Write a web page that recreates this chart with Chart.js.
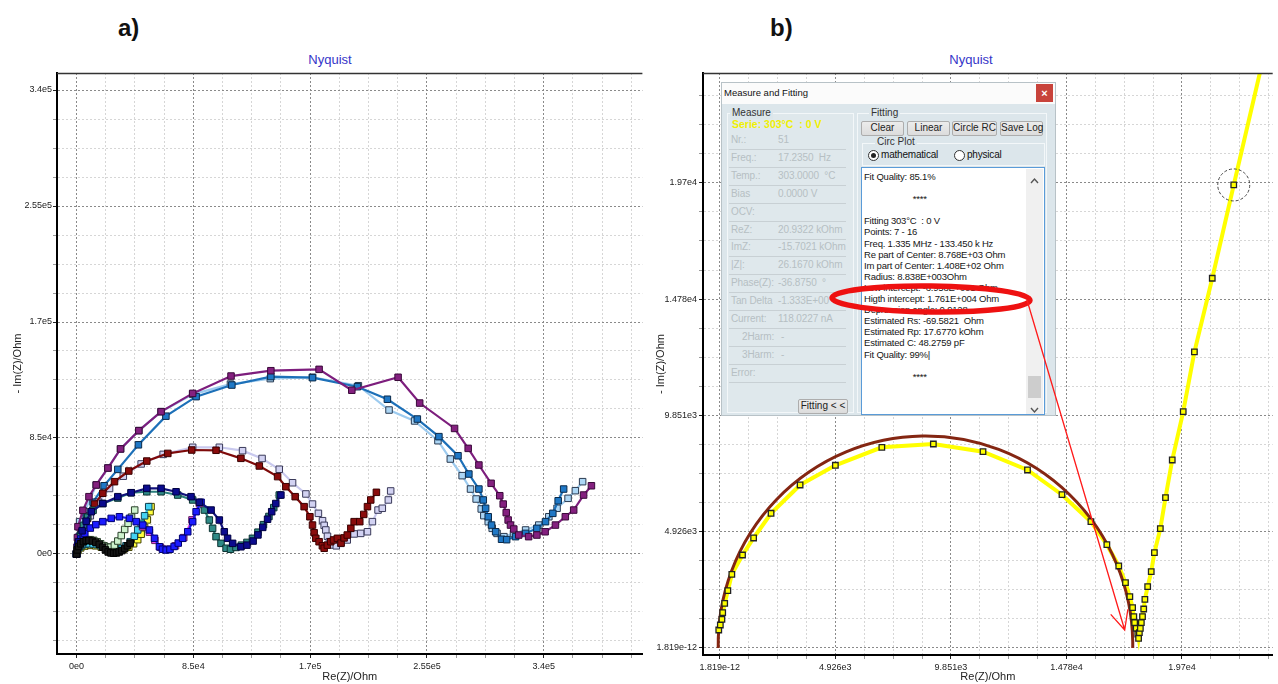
<!DOCTYPE html>
<html><head><meta charset="utf-8">
<script src="https://cdn.jsdelivr.net/npm/chart.js@4.4.1/dist/chart.umd.min.js"></script>
<style>
html,body{margin:0;padding:0;background:#fff;}
body{width:1278px;height:684px;position:relative;overflow:hidden;font-family:"Liberation Sans",Arial,sans-serif;}
.abs{position:absolute;}
canvas{display:block;}
#ca{position:absolute;left:0;top:0;z-index:1;}
#cb{position:absolute;left:648px;top:0;z-index:1;}
#ov{position:absolute;left:0;top:0;z-index:3;pointer-events:none;}
.plab{font-weight:bold;font-size:24px;line-height:24px;color:#111;}
.ctitle{font-size:13px;line-height:15px;color:#3434c8;width:100px;text-align:center;}
#dlg{position:absolute;left:0;top:0;width:1278px;height:684px;z-index:2;pointer-events:none;}
#dlg div{position:absolute;box-sizing:border-box;white-space:nowrap;}
.mt{font-size:10px;line-height:12px;color:#b6bfc3;letter-spacing:-0.1px;}
.gl{font-size:10px;line-height:12px;color:#333;background:#dce6eb;padding:0 2px;}
.btn{background:linear-gradient(#ececec,#dcdcdc);border:1px solid #adadad;border-radius:2px;font-size:10px;line-height:12px;color:#222;text-align:center;}
.rad{width:11px;height:11px;border:1px solid #333;border-radius:50%;background:#fff;}
</style></head>
<body>
<canvas id="ca" width="648" height="684" style="width:648px;height:684px"></canvas>
<canvas id="cb" width="630" height="684" style="width:630px;height:684px"></canvas>
<div class="abs plab" style="left:118px;top:16px">a)</div>
<div class="abs plab" style="left:770px;top:16px">b)</div>
<div class="abs ctitle" style="left:280px;top:52px">Nyquist</div>
<div class="abs ctitle" style="left:921px;top:52px">Nyquist</div>
<div id="dlg"></div>
<canvas id="ov" width="1278" height="684" style="width:1278px;height:684px"></canvas>
<script>
// ---------------- Panel a data (Re(Z), -Im(Z) in Ohm) ----------------
const aTickValues = [0, 85000, 170000, 255000, 340000];
const aTickLabels = ['0e0', '8.5e4', '1.7e5', '2.55e5', '3.4e5'];

const purpleRe = [0, 300, 600, 1000, 4600, 9000, 14300, 22800, 32000, 45300, 61500, 84500, 112400, 141400, 176500, 200300, 234000, 249700, 275100, 285000, 292800, 301700, 308000, 310500, 312700, 314100, 315800, 318200, 321800, 329000, 335000, 341000, 348500, 355700, 361800, 369000, 374700];
const purpleIm = [500, 5000, 12000, 20000, 32000, 42000, 50600, 63000, 77000, 90400, 104300, 117700, 130400, 134300, 135300, 120000, 129500, 110600, 92000, 77400, 65200, 51800, 42700, 36600, 30300, 24900, 21200, 18300, 13900, 12700, 13900, 16300, 21200, 27300, 32200, 43200, 50000];

const steelBlueRe = [0, 800, 2000, 4000, 7000, 12000, 20000, 30000, 45000, 65000, 87000, 113000, 141400, 171700, 204400, 226200, 248000, 263700, 277600, 285500, 292800, 296000, 297700, 299600, 302000, 305000, 309300, 313000, 319500, 326800, 335000, 341300, 346600, 350500, 354500];
const steelBlueIm = [0, 6000, 13000, 20000, 28000, 38000, 50000, 62000, 80000, 101000, 115300, 123800, 130000, 129200, 122600, 113400, 98900, 86000, 72000, 58600, 47600, 39600, 33500, 27300, 21200, 16300, 10800, 10500, 12700, 15100, 18800, 23700, 29800, 39000, 47600];

const lightBlueRe = [0, 300, 1000, 2200, 5800, 14300, 22800, 32000, 45300, 61500, 84500, 112000, 141000, 171700, 205100, 227400, 246000, 263000, 272000, 280600, 286700, 290800, 294500, 296400, 299600, 302500, 306000, 311000, 318000, 326800, 336400, 343700, 349700, 357700, 363000, 368300];
const lightBlueIm = [0, 2000, 9000, 23700, 31000, 50600, 63000, 77000, 90400, 104300, 117000, 124500, 128500, 129500, 123300, 105500, 97500, 83000, 69600, 57400, 47600, 40300, 33000, 28100, 23700, 18800, 15100, 12700, 15000, 17600, 21200, 27300, 33500, 40800, 46400, 53000];

const darkRedRe = [0, 1500, 4000, 8000, 13100, 19100, 27600, 38000, 51100, 66400, 83800, 101500, 119600, 133000, 146300, 152300, 159100, 165600, 169800, 171700, 172900, 174100, 176500, 178900, 180200, 182500, 185000, 187000, 189800, 192500, 194700, 197000, 199600, 202000, 206100, 209000, 211700, 214100, 218200];
const darkRedIm = [0, 8000, 16000, 26000, 36600, 44500, 53000, 60800, 68100, 73700, 76200, 76000, 70100, 64500, 56700, 49300, 42000, 34700, 27300, 21200, 15600, 11500, 9000, 6000, 4200, 6500, 9000, 10300, 11500, 8000, 11800, 13900, 18800, 23700, 23700, 29000, 34700, 39600, 45200];

const lavenderRe = [0, 2000, 5000, 10000, 16000, 24000, 34000, 47000, 63000, 84500, 103900, 120800, 135000, 147500, 157200, 166900, 171700, 176000, 179000, 180200, 181400, 182600, 184000, 186200, 189000, 192300, 197000, 202000, 206800, 211700, 215300, 219400, 222500, 226900, 228600];
const lavenderIm = [0, 9000, 18000, 28000, 38000, 48000, 57000, 66000, 73000, 78200, 78200, 75700, 70000, 62100, 52200, 44000, 36600, 29800, 24400, 21000, 17600, 13000, 9000, 6600, 6000, 7800, 10300, 14700, 15100, 16300, 23700, 32200, 33500, 39600, 46200];

const navyRe = [0, 1500, 4000, 7000, 10700, 19100, 30000, 39700, 51100, 61500, 72400, 83300, 89400, 97900, 103900, 107500, 109900, 113600, 119600, 124000, 128500, 132000, 135500, 139000, 142000, 145000, 148700];
const navyIm = [0, 9000, 17000, 24000, 31000, 37000, 42000, 44900, 48100, 48100, 45600, 42000, 37900, 32200, 24900, 16300, 11500, 7800, 5300, 6500, 9500, 14000, 19500, 25500, 31000, 37000, 43200];

const tealRe = [0, 1200, 3000, 5000, 8000, 12000, 19100, 30000, 39700, 51100, 61500, 73600, 84500, 93000, 96600, 99000, 101500, 105100, 108800, 112000, 116000, 120000, 124000, 128000, 132000, 136000, 140000, 143500, 147500];
const tealIm = [0, 7000, 14000, 21000, 27000, 32000, 37000, 41000, 44900, 45600, 45600, 43200, 39600, 32200, 24900, 18800, 12700, 7800, 4200, 3500, 4800, 6500, 8500, 11500, 16000, 21500, 27500, 34000, 43200];

const blueRe = [0, 1000, 3000, 6000, 10000, 14000, 19100, 25200, 31200, 38500, 43400, 48200, 53000, 56700, 60300, 62500, 65200, 68000, 71000, 74000, 77200, 80900, 84500, 87000, 90600];
const blueIm = [0, 6000, 11000, 15000, 19000, 21500, 23700, 26100, 27300, 26100, 23700, 21200, 17600, 11500, 5300, 3500, 2900, 3500, 5500, 8000, 11500, 16300, 23700, 31000, 37900];

const magentaRe = [48000, 53000, 57000, 61000, 66000, 72000, 78000, 84000, 89400];
const magentaIm = [20000, 16000, 10000, 5000, 3500, 6000, 12000, 25000, 37000];

const blackRe = [0, 500, 1500, 3000, 5000, 7000, 9000, 11500, 14000, 16500, 19000, 21000, 23000, 25000, 27000, 29000, 31000, 33000, 35000, 37000, 39000];
const blackIm = [0, 3000, 5500, 7500, 9000, 9800, 10000, 9500, 8500, 7000, 5000, 3000, 1500, 800, 600, 800, 1500, 2500, 4000, 6000, 8000];

const paleGreenRe = [0, 500, 1500, 3000, 5000, 7500, 10000, 12500, 15000, 17500, 20000, 22500, 25000, 27500, 30000, 32500, 35000, 37500, 40000, 42300];
const paleGreenIm = [0, 4000, 7000, 9000, 10000, 10500, 10500, 10000, 9000, 7500, 6000, 5000, 5000, 6500, 9500, 13500, 18000, 22500, 27000, 32200];

const cyanRe = [0, 700, 2000, 4000, 6500, 9000, 12000, 15000, 18000, 21000, 24000, 27000, 30000, 33000, 36000, 39000, 42000, 44500, 47000, 49500, 52500];
const cyanIm = [0, 3000, 5000, 6500, 7200, 7500, 7300, 6800, 6000, 5000, 4000, 3500, 3500, 4200, 6000, 9000, 13000, 17600, 22500, 28000, 34700];

const yellowARe = [0, 1000, 3000, 6000, 10000, 14000, 18000, 22000, 26000, 30000, 34000, 38000, 41500, 44500, 47000, 49500, 51500, 53500, 54200];
const yellowAIm = [0, 2500, 4500, 5800, 6300, 6000, 5000, 3800, 3000, 2800, 3500, 5000, 7500, 10500, 14500, 19500, 25000, 31000, 34700];

// ---------------- Panel b data ----------------
const bTickValues = [0, 4925.6, 9851.2, 14776.8, 19702.4];
const bTickLabels = ['1.819e-12', '4.926e3', '9.851e3', '1.478e4', '1.97e4'];

const measRe = [-46, 21, 89, 122, 207, 342, 511, 967, 1440, 2184, 3422, 4926, 6907, 9104, 11221, 13118, 14588, 15822, 16502, 17009, 17296, 17482, 17600, 17651, 17685, 17752, 17820, 17854, 17888, 17930, 17972, 18022, 18073, 18123, 18242, 18394, 18529, 18782, 19002, 19290, 19758, 20235, 20996, 21912, 23200];
const measIm = [762, 974, 1215, 1496, 1893, 2427, 3122, 3939, 4660, 5706, 6905, 7739, 8500, 8641, 8315, 7540, 6494, 5350, 4376, 3474, 2766, 2173, 1707, 1326, 1072, 834, 593, 411, 648, 834, 1072, 1326, 1652, 2063, 2597, 3232, 4037, 5054, 6367, 7964, 10010, 12539, 15660, 19613, 25100];
const selectedIndex = 43;

// circle fit result (from the fitting log)
const fitCenterRe = 8768;
const fitCenterIm = 140.8;
const fitRadius = 8838;
const arrowTipRe = 17262;
const arrowTipIm = 762;

// ---------------- dialog text ----------------
const measureLabels = ['Nr.:', 'Freq.:', 'Temp.:', 'Bias', 'OCV:', 'ReZ:', 'ImZ:', '|Z|:', 'Phase(Z):', 'Tan Delta', 'Current:', '2Harm:', '3Harm:', 'Error:'];
const measureValues = ['51', '17.2350  Hz', '303.0000  °C', '0.0000 V', '', '20.9322 kOhm', '-15.7021 kOhm', '26.1670 kOhm', '-36.8750  °', '-1.333E+00', '118.0227 nA', '-', '-', ''];
const logLines = ['Fit Quality: 85.1%', '', '                    ****', '', 'Fitting 303°C  : 0 V', 'Points: 7 - 16', 'Freq. 1.335 MHz - 133.450 k Hz', 'Re part of Center: 8.768E+03 Ohm', 'Im part of Center: 1.408E+02 Ohm', 'Radius: 8.838E+003Ohm', 'Low intercept: -6.958E+001 Ohm', 'Higth intercept: 1.761E+004 Ohm', 'Depression angle: 0.9128', 'Estimated Rs: -69.5821  Ohm', 'Estimated Rp: 17.6770 kOhm', 'Estimated C: 48.2759 pF', 'Fit Quality: 99%|', '', '                    ****'];

const FONT = "'Liberation Sans', Arial, sans-serif";
Chart.defaults.font.family = FONT;

function pts(re, im) { return re.map((v, i) => ({ x: v, y: im[i] })); }

function axis(dir, min, max, step, majors, labels, title, titlePad, size, tickPad) {
  const isMajor = v => majors.some(m => Math.abs(m - v) < step * 0.01);
  return {
    type: 'linear', min, max, position: dir === 'x' ? 'bottom' : 'left',
    afterBuildTicks(s) {
      const t = [];
      for (let k = Math.ceil(min / step); k * step <= max; k++) t.push({ value: k * step });
      s.ticks = t;
    },
    afterFit(s) { if (dir === 'x') s.height = size; else s.width = size; },
    ticks: {
      autoSkip: false, maxRotation: 0, minRotation: 0,
      font: { size: 9, family: FONT }, color: '#222', padding: tickPad,
      callback(v) { const k = majors.findIndex(m => Math.abs(m - v) < step * 0.01); return k >= 0 ? labels[k] : ''; }
    },
    grid: {
      color(c) { return c.tick && !isMajor(c.tick.value) ? '#d6d6d6' : '#8a8a8a'; },
      tickColor(c) { return c.tick && !isMajor(c.tick.value) ? '#9a9a9a' : '#222'; },
      lineWidth: 1, tickLength: 4, drawTicks: true
    },
    border: { display: true, color: '#000', width: 2, dash: [2, 2] },
    title: { display: true, text: title, font: { size: 11, family: FONT }, color: '#222', padding: titlePad }
  };
}

const frameTop = {
  id: 'frameTop',
  afterDraw(ch) {
    const { ctx, chartArea: a } = ch;
    ctx.save(); ctx.strokeStyle = '#333'; ctx.lineWidth = 1.3;
    ctx.beginPath(); ctx.moveTo(a.left, a.top + 0.5); ctx.lineTo(a.right, a.top + 0.5); ctx.stroke(); ctx.restore();
  }
};

// ---------------- Panel a chart ----------------
const aSeries = [
  { re: blackRe, im: blackIm, line: '#111111', fill: '#151515', edge: '#000000' },
  { re: navyRe, im: navyIm, line: '#12127c', fill: '#0b0b8e', edge: '#000040' },
  { re: blueRe, im: blueIm, line: '#1616ee', fill: '#1c1cff', edge: '#000070' },
  { re: magentaRe, im: magentaIm, line: '#e040e0', fill: '#f050f0', edge: '#602060' },
  { re: tealRe, im: tealIm, line: '#2b7f7d', fill: '#2f8a86', edge: '#0c3332' },
  { re: paleGreenRe, im: paleGreenIm, line: '#bde6bd', fill: '#cdf2cd', edge: '#2a402a' },
  { re: cyanRe, im: cyanIm, line: '#2ec4e6', fill: '#44d2f2', edge: '#104050' },
  { re: yellowARe, im: yellowAIm, line: '#e8e830', fill: '#ffff40', edge: '#404000' },
  { re: darkRedRe, im: darkRedIm, line: '#7e0a0a', fill: '#8a0c0c', edge: '#3a0000' },
  { re: lavenderRe, im: lavenderIm, line: '#c9c9ee', fill: '#d2d2f2', edge: '#3a3a5a' },
  { re: purpleRe, im: purpleIm, line: '#7d1e7d', fill: '#84207f', edge: '#3a0a3a' },
  { re: steelBlueRe, im: steelBlueIm, line: '#1d70b8', fill: '#1f78c6', edge: '#0a2a4a' },
  { re: lightBlueRe, im: lightBlueIm, line: '#9dcbef', fill: '#acd6f5', edge: '#2a3a50' }
];

new Chart(document.getElementById('ca'), {
  type: 'scatter',
  data: {
    datasets: aSeries.map(s => ({
      data: pts(s.re, s.im), showLine: true, borderColor: s.line, borderWidth: 2.2,
      pointStyle: 'rect', pointRadius: 4.6, pointBackgroundColor: s.fill, pointBorderColor: s.edge,
      pointBorderWidth: 1, tension: 0
    }))
  },
  options: {
    responsive: false, animation: false, devicePixelRatio: 1,
    layout: { padding: { top: 73, right: 2, bottom: 0, left: 0 } },
    plugins: { legend: { display: false }, tooltip: { enabled: false } },
    scales: {
      x: axis('x', -14250, 411800, 21250, aTickValues, aTickLabels, 'Re(Z)/Ohm', { top: 0, bottom: 0 }, 30, 3),
      y: axis('y', -73276, 352457, 21250, aTickValues, aTickLabels, '- Im(Z)/Ohm', { top: 11, bottom: 0 }, 57, 1)
    }
  },
  plugins: [frameTop]
});

// ---------------- Panel b chart ----------------
const bPlugin = {
  id: 'bDecor',
  afterDatasetDraw(ch, args) {
    if (args.index !== 1) return;
    const { ctx, chartArea: a, scales: { x, y } } = ch;
    const cx = x.getPixelForValue(fitCenterRe), cy = y.getPixelForValue(fitCenterIm);
    const rx = Math.abs(x.getPixelForValue(fitCenterRe + fitRadius) - cx);
    const ry = Math.abs(y.getPixelForValue(fitCenterIm + fitRadius) - cy);
    const d = Math.asin(fitCenterIm / fitRadius);
    ctx.save();
    ctx.beginPath(); ctx.rect(a.left, a.top, a.right - a.left, a.bottom - a.top); ctx.clip();
    ctx.beginPath(); ctx.ellipse(cx, cy, rx, ry, 0, Math.PI - d, 2 * Math.PI + d, false);
    ctx.strokeStyle = '#842612'; ctx.lineWidth = 3; ctx.stroke();
    ctx.restore();
  },
  afterDatasetsDraw(ch) {
    const { ctx, scales: { x, y } } = ch;
    const px = x.getPixelForValue(measRe[selectedIndex]), py = y.getPixelForValue(measIm[selectedIndex]);
    ctx.save(); ctx.setLineDash([3, 2]); ctx.strokeStyle = '#444'; ctx.lineWidth = 1;
    ctx.beginPath(); ctx.arc(px, py, 16, 0, 2 * Math.PI); ctx.stroke(); ctx.restore();
  },
  afterDraw(ch) {
    const { scales: { x, y } } = ch;
    const o = document.getElementById('ov').getContext('2d');
    const left = ch.canvas.offsetLeft, top = ch.canvas.offsetTop;
    o.clearRect(0, 0, 1278, 684);
    // annotation ellipse around the high-intercept line
    o.save(); o.strokeStyle = '#ee1111'; o.lineWidth = 5.5;
    o.beginPath(); o.ellipse(931, 299, 99, 13, 0.012, 0, 2 * Math.PI); o.stroke(); o.restore();
    // arrow to the intercept
    const sx = 1027, sy = 300;
    const tx = left + x.getPixelForValue(arrowTipRe), ty = top + y.getPixelForValue(arrowTipIm);
    const ang = Math.atan2(ty - sy, tx - sx);
    o.save(); o.strokeStyle = '#ff1a1a'; o.lineWidth = 1.3;
    o.beginPath(); o.moveTo(sx, sy); o.lineTo(tx, ty);
    o.moveTo(tx + 21 * Math.cos(ang + Math.PI - 0.44), ty + 21 * Math.sin(ang + Math.PI - 0.44));
    o.lineTo(tx, ty);
    o.lineTo(tx + 21 * Math.cos(ang + Math.PI + 0.44), ty + 21 * Math.sin(ang + Math.PI + 0.44));
    o.stroke(); o.restore();
  }
};

new Chart(document.getElementById('cb'), {
  type: 'scatter',
  data: {
    datasets: [
      { data: pts(measRe, measIm), showLine: false, pointStyle: 'rect', pointRadius: 3.9,
        pointBackgroundColor: '#ffff00', pointBorderColor: '#222', pointBorderWidth: 1.3, clip: 0 },
      { data: pts(measRe, measIm), showLine: true, borderColor: '#ffff00', borderWidth: 4, pointRadius: 0, tension: 0, clip: 0 }
    ]
  },
  options: {
    responsive: false, animation: false, devicePixelRatio: 1,
    layout: { padding: { top: 73, right: 0, bottom: 0, left: 0 } },
    plugins: { legend: { display: false }, tooltip: { enabled: false } },
    scales: {
      x: axis('x', -718, 23573, 1231.4, bTickValues, bTickLabels, 'Re(Z)/Ohm', { top: 0, bottom: 0 }, 29, 3),
      y: axis('y', -296.5, 24354, 1231.4, bTickValues, bTickLabels, '- Im(Z)/Ohm', { top: 6, bottom: 0 }, 55, 2)
    }
  },
  plugins: [frameTop, bPlugin]
});

// ---------------- Measure and Fitting dialog (HTML) ----------------
const dlg = document.getElementById('dlg');
function el(x, y, w, h, css, html, cls) {
  const d = document.createElement('div');
  d.style.left = x + 'px'; d.style.top = y + 'px';
  if (w != null) d.style.width = w + 'px';
  if (h != null) d.style.height = h + 'px';
  if (css) d.style.cssText += css;
  if (cls) d.className = cls;
  if (html != null) d.innerHTML = html;
  dlg.appendChild(d); return d;
}
el(721, 82, 335, 334, 'background:#fbfbfb;border:1px solid #b8c2c7;');
el(722, 104, 333, 311, 'background:#dce6eb;');
el(724, 87, null, null, 'font-size:9.5px;line-height:12px;color:#111;', 'Measure and Fitting');
el(1036, 84, 17, 18, 'background:#c8433b;color:#fff;font-size:11px;line-height:18px;text-align:center;font-weight:bold;', '×');
// Measure group
el(727, 113, 127, 300, 'border:1px solid #f3f7f9;background:#dfe8ec;');
el(730, 107, null, null, '', 'Measure', 'gl');
el(732, 118, null, null, 'font-size:10.5px;line-height:12px;font-weight:bold;color:#f0f000;', 'Serie: 303°C &nbsp;: 0 V');
measureLabels.forEach((lab, i) => {
  const cy = 140 + 17.9 * i;
  const harm = lab.indexOf('Harm') > 0;
  el(harm ? 742 : 731, cy - 6, null, null, '', lab, 'mt');
  el(harm ? 781 : 778, cy - 6, null, null, '', measureValues[i].replace(/ /g, '&nbsp;'), 'mt');
  el(729, Math.round(cy + 9), 117, 1, 'background:#c8d0d4;');
});
el(798, 399, 50, 15, '', 'Fitting &lt; &lt;', 'btn');
// Fitting group
el(857, 113, 190, 300, 'border:1px solid #f3f7f9;');
el(869, 107, null, null, '', 'Fitting', 'gl');
el(861, 121, 43, 15, '', 'Clear', 'btn');
el(907, 121, 43, 15, '', 'Linear', 'btn');
el(952, 121, 45, 15, '', 'Circle RC', 'btn');
el(1000, 121, 43, 15, '', 'Save Log', 'btn');
el(862, 143, 183, 23, 'border:1px solid #f3f7f9;');
el(875, 136, null, null, '', 'Circ Plot', 'gl');
el(868, 150, null, null, '', '', 'rad');
el(871, 153, 5, 5, 'background:#222;border-radius:50%;');
el(881, 149, null, null, 'font-size:10px;line-height:12px;color:#111;letter-spacing:-0.2px;', 'mathematical');
el(954, 150, null, null, '', '', 'rad');
el(967, 149, null, null, 'font-size:10px;line-height:12px;color:#111;letter-spacing:-0.2px;', 'physical');
// log text box
el(861, 167, 184, 248, 'background:#fff;border:1px solid #5a9bd8;');
el(864, 171, null, null, 'white-space:pre;font-size:9.5px;line-height:11.1px;color:#151515;letter-spacing:-0.2px;', logLines.join('\n').replace(/&/g, '&amp;'));
el(1026, 169, 17, 245, 'background:#f0f0f0;');
el(1028, 376, 13, 22, 'background:#cdcdcd;');
el(1029, 171, 11, 9, '', '<svg width="11" height="9"><polyline points="2,7 5.5,3 9,7" fill="none" stroke="#555" stroke-width="1.4"/></svg>');
el(1029, 401, 11, 9, '', '<svg width="11" height="9"><polyline points="2,2 5.5,6 9,2" fill="none" stroke="#555" stroke-width="1.4"/></svg>');
</script>
</body></html>
